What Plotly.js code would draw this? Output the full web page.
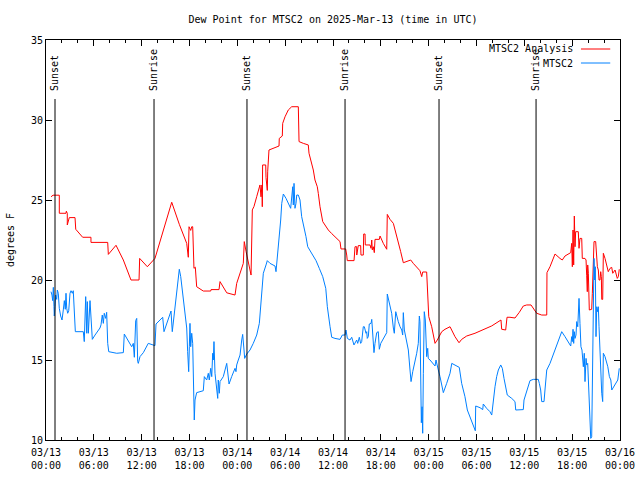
<!DOCTYPE html>
<html>
<head>
<meta charset="utf-8">
<script src="https://cdn.plot.ly/plotly-3.0.1.min.js"></script>
<style>html,body{margin:0;padding:0;background:#fff;}#chart{width:640px;height:480px;}</style>
</head>
<body>
<div id="chart"></div>
<script>
// Hours since 2025-03-13 00:00 UTC
const analysisHours = [0.63,0.88,1.67,1.67,2.51,2.55,2.67,2.67,2.92,3.64,3.73,4.60,5.64,5.64,7.74,7.82,8.78,9.70,10.66,11.67,11.75,12.71,13.67,14.68,15.77,16.72,17.65,17.85,17.94,18.15,18.28,18.40,18.48,18.56,18.73,18.90,19.73,20.66,20.70,21.70,21.83,22.67,23.71,23.92,24.75,24.87,25.09,25.30,25.50,25.72,25.88,26.09,26.43,26.84,26.97,27.09,27.13,27.17,27.56,27.60,27.76,27.81,27.97,28.51,29.23,29.26,29.64,29.69,29.98,30.39,30.82,31.65,31.74,32.28,32.90,32.99,33.24,33.53,33.74,34.03,34.16,34.37,34.71,35.00,35.41,35.84,36.25,36.88,37.00,37.59,37.72,37.79,38.64,38.76,38.97,38.98,39.17,39.47,39.51,39.80,39.85,40.02,40.05,40.64,40.77,40.86,40.93,41.06,41.18,41.27,41.81,41.90,42.31,42.74,42.81,43.15,43.57,43.78,44.19,44.49,44.82,45.25,45.75,46.07,46.50,46.91,47.13,47.25,47.75,47.88,48.01,48.38,48.80,49.08,49.33,49.64,50.05,50.68,51.30,51.81,52.14,52.77,53.81,54.85,55.91,57.07,57.16,57.66,57.83,58.20,58.83,59.37,59.87,60.30,60.84,61.55,62.18,62.81,62.84,63.22,63.85,64.47,64.76,65.10,65.52,65.82,65.94,66.02,66.11,66.19,66.27,66.36,66.44,66.77,66.86,66.98,67.20,67.27,67.61,67.74,67.82,67.90,67.95,68.03,68.15,68.45,68.53,68.65,68.74,68.95,69.03,69.16,69.28,69.37,69.49,69.58,69.66,69.71,69.83,69.91,70.12,70.53,70.75,70.96,71.09,71.38,71.66,71.79,71.91];
const analysisDewF = [25.2,25.3,25.3,24.17,24.17,24.3,24.17,23.44,23.9,23.9,23.17,22.67,22.67,22.35,22.35,21.6,22.17,21.25,20.0,20.0,21.35,20.83,21.35,23.0,24.86,23.48,22.29,21.42,23.33,23.1,23.33,23.33,21.8,20.73,20.8,19.58,19.31,19.31,19.4,19.4,19.9,19.2,19.06,19.79,21.04,22.4,21.8,21.3,20.8,20.31,24.38,24.6,25.21,25.94,25.2,25.94,24.58,27.19,27.19,26.4,25.6,26.8,28.125,28.23,28.375,28.85,29.0,29.79,30.2,30.625,30.83,30.83,28.65,28.54,28.44,27.92,27.5,26.875,26.25,25.83,25.4,24.58,23.65,23.44,23.125,22.9,22.71,22.4,21.94,21.94,21.56,21.21,21.21,22.08,22.08,21.56,22.15,22.15,21.56,21.56,22.875,22.875,22.19,22.19,21.98,22.5,21.88,22.08,21.71,22.54,22.54,22.75,22.29,21.92,24.1,23.79,23.54,23.17,22.4,21.77,21.08,21.15,21.25,21.04,20.79,20.58,20.21,20.5,20.5,19.06,17.71,17.08,16.04,16.25,16.46,16.77,16.92,17.08,16.46,16.08,16.29,16.5,16.67,16.875,17.13,17.5,16.92,16.875,17.67,17.67,17.625,17.98,18.375,18.44,18.44,17.92,17.81,17.81,20.46,20.83,21.625,21.35,21.25,21.5,21.625,21.71,22.29,20.83,23.125,20.94,24.0,22.08,23.02,23.02,21.98,22.6,22.6,21.35,21.35,21.25,20.3,19.27,20.94,20.42,18.125,18.17,19.17,21.875,22.4,22.4,21.44,20.83,20.625,20.0,20.0,20.52,20.21,18.79,18.79,21.67,21.35,20.52,20.73,20.79,20.42,20.625,20.1,20.21,20.67];

const stationHours = [0.63,0.75,0.84,0.92,1.00,1.04,1.13,1.22,1.34,1.42,1.54,1.67,1.84,2.01,2.17,2.30,2.42,2.51,2.60,2.72,2.85,2.92,3.01,3.14,3.30,3.42,3.55,3.68,4.68,4.80,4.98,5.11,5.18,5.31,5.52,5.64,5.81,6.15,6.56,6.77,6.90,7.06,7.19,7.31,7.49,7.61,7.74,7.87,8.87,9.70,9.82,10.12,10.54,10.75,10.95,11.08,11.25,11.38,11.50,11.58,11.79,12.21,12.83,13.17,13.67,13.80,14.30,14.64,14.80,15.14,15.55,15.68,15.84,15.97,16.09,16.22,16.39,16.60,16.72,16.90,17.02,17.22,17.44,17.65,17.77,17.90,17.98,18.06,18.15,18.28,18.40,18.48,18.56,18.60,18.69,18.90,19.73,19.86,20.16,20.36,20.48,20.66,20.79,20.91,20.99,21.07,21.20,21.41,21.54,21.61,21.74,21.83,22.24,22.67,22.79,22.96,23.29,23.71,23.83,23.92,24.12,24.34,24.55,24.67,24.84,24.92,25.18,25.59,26.00,26.43,26.76,27.06,27.26,27.60,27.76,28.10,28.73,28.85,28.94,29.26,29.44,29.57,29.77,30.11,30.39,30.69,30.95,31.02,31.11,31.23,31.36,31.45,31.65,31.86,32.07,32.36,32.61,32.83,33.33,33.87,34.28,34.71,35.09,35.29,35.63,35.84,36.25,36.88,37.17,37.51,37.63,37.80,38.13,38.35,38.63,38.97,39.10,39.30,39.47,39.60,39.80,39.93,40.14,40.23,40.30,40.43,40.55,40.77,40.86,40.98,41.14,41.27,41.48,41.68,41.81,41.99,42.31,42.74,42.81,42.94,43.15,43.36,43.57,43.69,43.87,43.99,44.19,44.41,44.62,44.74,44.82,44.95,45.25,45.45,45.66,45.79,46.00,46.29,46.50,46.70,46.83,46.91,47.00,47.08,47.17,47.25,47.33,47.45,47.58,47.67,47.75,47.88,47.95,48.17,48.58,48.80,48.92,49.08,49.21,49.42,49.63,49.84,50.26,50.68,50.90,51.30,51.84,52.14,52.55,52.85,53.40,53.85,53.90,54.44,54.78,54.85,55.27,55.69,55.91,56.11,56.32,56.53,56.74,57.04,57.24,57.45,57.66,57.86,58.42,58.83,58.92,59.87,59.96,60.30,60.71,61.13,61.75,61.88,62.05,62.18,62.47,62.59,62.81,63.22,63.85,64.26,64.69,65.10,65.52,65.82,65.94,66.02,66.11,66.19,66.27,66.36,66.48,66.57,66.70,66.77,66.86,66.98,67.10,67.23,67.40,67.52,67.61,67.74,67.82,67.95,68.03,68.15,68.24,68.33,68.45,68.53,68.65,68.74,68.83,68.90,68.99,69.08,69.16,69.28,69.37,69.49,69.58,69.71,69.83,69.91,70.12,70.47,70.67,70.85,70.97,71.38,71.72,71.91];
const stationDewF = [19.27,19.06,18.71,19.54,18.33,17.75,18.33,19.06,18.79,19.375,19.17,18.23,17.75,17.5,18.13,18.71,18.17,19.17,18.23,17.92,18.08,18.54,19.17,19.33,19.17,19.33,17.92,16.77,16.77,16.15,18.96,16.67,18.65,16.67,18.71,17.5,16.29,16.56,16.875,17.0,17.2,17.81,17.29,17.92,17.6,17.98,16.04,15.52,15.42,15.46,16.625,16.35,16.0,15.83,16.04,15.17,17.46,17.6,14.9,14.79,15.21,15.46,16.04,16.0,15.9,17.25,17.54,17.67,16.77,17.25,17.75,18.06,16.77,17.4,18.02,18.65,19.375,20.21,20.67,20.21,19.69,18.85,17.81,17.0,15.52,14.27,15.83,17.29,15.83,16.67,16.04,14.58,13.44,11.25,12.5,12.96,13.08,13.96,13.75,14.17,13.75,14.48,13.96,15.42,15.0,16.15,14.17,13.33,12.6,13.75,12.92,13.65,13.96,14.79,14.27,13.5,13.96,14.48,14.27,14.69,15.0,15.31,16.25,16.6,15.625,15.1,15.375,15.625,16.04,16.56,17.29,19.48,20.42,20.94,21.21,21.04,20.875,20.52,21.04,22.4,23.75,24.79,25.375,25.1,24.79,24.48,25.83,24.69,26.04,24.48,24.79,25.31,25.31,25.0,23.96,23.33,22.71,22.08,21.67,21.21,20.73,20.21,19.48,18.33,17.08,16.42,16.35,16.29,16.56,16.56,16.875,16.35,16.25,16.42,15.94,16.25,16.04,16.42,16.04,16.15,17.08,17.08,16.67,16.77,16.35,16.46,17.25,17.29,17.54,16.67,15.46,16.04,16.71,16.77,15.67,16.04,16.35,16.71,19.125,18.85,18.33,17.92,17.0,16.67,18.02,17.71,17.4,17.08,16.875,16.56,17.96,16.875,16.04,15.625,14.375,13.65,14.27,14.83,15.42,16.04,17.75,17.4,14.375,11.08,12.08,10.42,14.17,18.02,17.5,16.56,15.21,15.73,15.1,15.0,14.79,14.625,15.0,14.58,14.375,13.96,13.54,12.96,13.54,14.17,14.79,14.69,14.54,13.54,12.71,11.875,11.15,10.58,12.125,12.02,11.9,12.25,11.98,11.77,11.56,12.5,13.33,13.96,14.375,14.69,14.48,13.85,13.33,12.81,12.6,12.4,11.875,11.9,12.5,13.02,13.71,13.79,13.79,13.54,13.125,12.4,12.4,13.125,14.375,14.79,15.625,16.25,16.77,16.46,16.15,15.875,16.46,16.15,16.92,16.04,16.77,16.35,16.56,17.4,17.08,17.92,18.85,17.29,15.83,15.625,14.58,15.42,13.65,15.1,14.69,14.79,13.75,12.6,11.67,10.1,10.2,14.48,20.625,21.35,20.0,20.83,16.46,18.33,18.02,18.33,17.08,15.21,13.85,12.92,12.4,15.42,15.21,14.58,13.96,13.75,13.125,13.44,13.75,14.48];

const sunHours = [1.13, 13.55, 25.21, 37.51, 49.30, 61.47];
const sunLabels = ["Sunset", "Sunrise", "Sunset", "Sunrise", "Sunset", "Sunrise"];

const tickHours = [0,6,12,18,24,30,36,42,48,54,60,66,72];
const tickLabels = ["03/13<br>00:00","03/13<br>06:00","03/13<br>12:00","03/13<br>18:00","03/14<br>00:00","03/14<br>06:00","03/14<br>12:00","03/14<br>18:00","03/15<br>00:00","03/15<br>06:00","03/15<br>12:00","03/15<br>18:00","03/16<br>00:00"];
const yTicks = [10,15,20,25,30,35];

const seriesNames = ["MTSC2 Analysis", "MTSC2"];
const RED = "#ff0000", BLUE = "#0080ff";
const FONT = {family: "DejaVu Sans Mono, monospace", size: 10, color: "#000"};

const traces = [
  {x: analysisHours, y: analysisDewF, type: "scatter", mode: "lines", name: seriesNames[0],
   line: {color: RED, width: 1}, showlegend: false, hoverinfo: "skip"},
  {x: stationHours, y: stationDewF, type: "scatter", mode: "lines", name: seriesNames[1],
   line: {color: BLUE, width: 1}, showlegend: false, hoverinfo: "skip"}
];

const shapes = sunHours.map(h => ({
  type: "line", xref: "x", yref: "paper", x0: h, x1: h, y0: 0, y1: 0.8525,
  line: {color: "#000", width: 1}
}));
const annotations = sunHours.map((h, i) => ({
  x: h, xref: "x", y: 0.8675, yref: "paper", text: sunLabels[i], textangle: -90,
  showarrow: false, xanchor: "center", yanchor: "bottom", font: FONT
}));

// legend (text left of line sample, as in reference)
const legendY = [0.9775, 0.9425];
const legendColors = [RED, BLUE];
seriesNames.forEach((n, i) => {
  annotations.push({x: 0.922, xref: "paper", y: legendY[i], yref: "paper", text: n,
    showarrow: false, xanchor: "right", yanchor: "middle", font: FONT});
  shapes.push({type: "line", xref: "paper", yref: "paper", x0: 0.932, x1: 0.983,
    y0: legendY[i], y1: legendY[i], line: {color: legendColors[i], width: 1}});
});

const axisCommon = {
  showline: true, linecolor: "#000", linewidth: 1, mirror: "ticks",
  ticks: "inside", ticklen: 6, tickwidth: 1, tickcolor: "#000",
  showgrid: false, zeroline: false, tickfont: FONT, fixedrange: true
};

const layout = {
  width: 640, height: 480,
  margin: {l: 46, r: 20, t: 40, b: 40, pad: 0},
  paper_bgcolor: "#fff", plot_bgcolor: "#fff",
  font: FONT,
  title: {text: "Dew Point for MTSC2 on 2025-Mar-13 (time in UTC)", font: FONT,
          x: 0.5, xref: "paper", xanchor: "center", y: 0.96, yref: "container", yanchor: "middle"},
  xaxis: Object.assign({}, axisCommon, {
    range: [0, 72], tickmode: "array", tickvals: tickHours, ticktext: tickLabels,
    ticklabelstandoff: 3,
    minor: {tickmode: "linear", tick0: 0, dtick: 2, ticks: "inside", ticklen: 3, tickcolor: "#000", showgrid: false}
  }),
  yaxis: Object.assign({}, axisCommon, {
    range: [10, 35], tickmode: "array", tickvals: yTicks,
    title: {text: "degrees F", font: FONT, standoff: 14}
  }),
  shapes: shapes,
  annotations: annotations,
  showlegend: false
};

Plotly.newPlot("chart", traces, layout, {staticPlot: true, displayModeBar: false});
</script>
</body>
</html>
